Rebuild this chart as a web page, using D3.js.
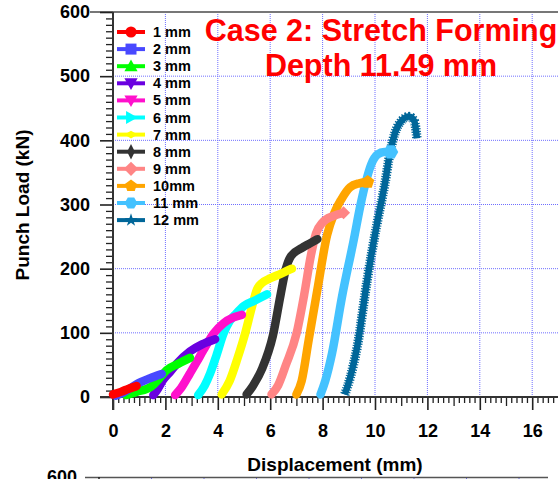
<!DOCTYPE html>
<html>
<head>
<meta charset="utf-8">
<script src="https://cdn.jsdelivr.net/npm/d3@7"></script>
<style>
  html, body { margin: 0; padding: 0; background: #fff; }
  svg { display: block; font-family: "Liberation Sans", Arial, sans-serif; }
</style>
</head>
<body>
<svg id="chart" width="558" height="479"></svg>
<script>
// Punch load vs displacement for stretch forming at successive depths
const seriesNames = ["1 mm", "2 mm", "3 mm", "4 mm", "5 mm", "6 mm", "7 mm", "8 mm", "9 mm", "10mm", "11 mm", "12 mm"];
const seriesColors = ["#ff0000", "#4848ff", "#00ff00", "#6a00e0", "#ff10cc", "#00ffff", "#ffff00", "#333333", "#ff8585", "#ffa500", "#44c2ff", "#006699"];
const seriesMarkers = ["circle", "square", "triUp", "triDown", "triDown", "triRight", "diamondFlat", "diamondThin", "diamond", "pentagon", "hexagon", "star"];
// size of the marker left at the end of each curve (0 = none)
const endMarkerSize = [0, 0, 0, 0, 0, 0, 0, 0, 10, 12, 13, 0];

// displacement (mm) per series
const disp = [
  [0.0, 0.3, 0.6, 0.9],
  [0.1, 0.4, 0.9, 1.4, 1.86],
  [0.5, 0.9, 1.45, 1.75, 2.05, 2.5, 2.94],
  [1.54, 1.7, 1.92, 2.2, 2.44, 2.94, 3.4, 3.9],
  [2.37, 2.6, 2.94, 3.2, 3.45, 3.84, 4.22, 4.6, 4.92],
  [3.25, 3.5, 3.71, 3.95, 4.22, 4.45, 4.7, 5.0, 5.4, 5.88],
  [4.15, 4.45, 4.75, 5.05, 5.3, 5.5, 5.7, 6.0, 6.4, 6.83],
  [5.1, 5.35, 5.7, 6.1, 6.4, 6.6, 6.8, 7.2, 7.5, 7.8],
  [6.05, 6.3, 6.6, 7.0, 7.3, 7.55, 7.75, 8.0, 8.4, 8.8],
  [7.0, 7.2, 7.47, 7.8, 8.17, 8.45, 8.7, 9.05, 9.4, 9.72],
  [7.92, 8.1, 8.36, 8.74, 9.19, 9.45, 9.65, 9.85, 10.1, 10.35, 10.6],
  [8.85, 9.05, 9.32, 9.7, 10.08, 10.38, 10.57, 10.76, 11.0, 11.3, 11.5, 11.6]
];
// punch load (kN) per series
const load = [
  [4, 8, 13, 17],
  [2, 7, 20, 29, 36],
  [3, 8, 16, 28, 42, 52, 61],
  [3, 12, 27, 40, 52, 71, 82, 90],
  [3, 14, 37, 55, 73, 99, 115, 124, 128],
  [3, 18, 37, 65, 99, 118, 130, 142, 150, 160],
  [4, 25, 60, 100, 140, 168, 178, 185, 192, 200],
  [4, 18, 45, 95, 160, 200, 220, 232, 239, 246],
  [4, 18, 50, 98, 160, 220, 255, 272, 282, 287],
  [4, 25, 89, 167, 252, 287, 307, 327, 333, 335],
  [4, 25, 68, 156, 245, 300, 335, 362, 378, 382, 382],
  [4, 30, 78, 182, 271, 333, 380, 411, 430, 437, 430, 403]
];

const xTicks = [0, 2, 4, 6, 8, 10, 12, 14, 16];
const yTicks = [0, 100, 200, 300, 400, 500, 600];
const titleLines = ["Case 2: Stretch Forming", "Depth 11.49 mm"];

const svg = d3.select("#chart");
const x = d3.scaleLinear().domain([0, 17]).range([113, 113 + 17 * 26.2]);
const y = d3.scaleLinear().domain([0, 600]).range([397, 12]);

// dotted grid
const gridColor = "#6f6fff";
svg.append("g").selectAll("line").data(xTicks.filter(v => v > 0)).join("line")
  .attr("x1", d => x(d)).attr("x2", d => x(d)).attr("y1", y(600)).attr("y2", y(0))
  .attr("stroke", gridColor).attr("stroke-width", 1).attr("stroke-dasharray", "1,1");
svg.append("g").selectAll("line").data(yTicks.filter(v => v > 0 && v < 600)).join("line")
  .attr("x1", x(0)).attr("x2", 558).attr("y1", d => y(d)).attr("y2", d => y(d))
  .attr("stroke", gridColor).attr("stroke-width", 1).attr("stroke-dasharray", "1,1");

// top frame
svg.append("line").attr("x1", 90).attr("x2", 558).attr("y1", y(600)).attr("y2", y(600))
  .attr("stroke", "#777").attr("stroke-width", 2);

// y axis: major + minor ticks
const yMinor = d3.range(0, 601, 10).filter(v => v % 100 !== 0);
const yAxisMajor = d3.axisLeft(y).tickValues(yTicks).tickSize(13).tickPadding(10);
const yAxisMinor = d3.axisLeft(y).tickValues(yMinor).tickSize(7).tickFormat("");
const gyMinor = svg.append("g").attr("transform", `translate(${x(0)},0)`).call(yAxisMinor);
const gy = svg.append("g").attr("transform", `translate(${x(0)},0)`).call(yAxisMajor);

// x axis: major, mid, minor ticks
const xMinor = d3.range(0, 85).map(i => i * 0.2).filter(v => Math.abs(v - Math.round(v)) > 1e-6);
const xMid = d3.range(1, 17, 2);
const gxMinor = svg.append("g").attr("transform", `translate(0,${y(0)})`)
  .call(d3.axisBottom(x).tickValues(xMinor).tickSize(6).tickFormat(""));
const gxMid = svg.append("g").attr("transform", `translate(0,${y(0)})`)
  .call(d3.axisBottom(x).tickValues(xMid).tickSize(9).tickFormat(""));
const gx = svg.append("g").attr("transform", `translate(0,${y(0)})`)
  .call(d3.axisBottom(x).tickValues(xTicks).tickSize(13).tickPadding(14));

[gyMinor, gy, gxMinor, gxMid, gx].forEach(g => {
  g.select(".domain").remove();
  g.selectAll(".tick line").attr("stroke", "#222").attr("stroke-width", 1.3);
});
gy.selectAll(".tick line").attr("stroke-width", 1.6);
gx.selectAll(".tick line").attr("stroke-width", 1.6);
gy.selectAll(".tick text").attr("font-size", 18).attr("font-weight", "bold").attr("fill", "#000")
  .attr("font-family", "Liberation Sans, Arial, sans-serif");
gx.selectAll(".tick text").attr("font-size", 18).attr("font-weight", "bold").attr("fill", "#000")
  .attr("font-family", "Liberation Sans, Arial, sans-serif");

// axis lines
svg.append("line").attr("x1", x(0)).attr("x2", x(0)).attr("y1", y(600)).attr("y2", y(0) + 13)
  .attr("stroke", "#333").attr("stroke-width", 2);
svg.append("line").attr("x1", x(0) - 13).attr("x2", 558).attr("y1", y(0)).attr("y2", y(0))
  .attr("stroke", "#333").attr("stroke-width", 2);

// axis titles
svg.append("text").attr("x", 335).attr("y", 471).attr("text-anchor", "middle")
  .attr("font-size", 19).attr("font-weight", "bold").text("Displacement (mm)");
svg.append("text").attr("transform", `translate(29,205) rotate(-90)`).attr("text-anchor", "middle")
  .attr("font-size", 19).attr("font-weight", "bold").text("Punch Load (kN)");

// marker shapes
function markerPath(kind, s) {
  const pts = (arr) => "M" + arr.map(p => p.join(",")).join("L") + "Z";
  const poly = (n, r, rot) => pts(d3.range(n).map(i => {
    const a = rot + i * 2 * Math.PI / n;
    return [r * Math.cos(a), r * Math.sin(a)];
  }));
  switch (kind) {
    case "circle": return d3.symbol(d3.symbolCircle, s * s * 0.8)();
    case "square": return pts([[-s / 2, -s / 2], [s / 2, -s / 2], [s / 2, s / 2], [-s / 2, s / 2]]);
    case "triUp": return pts([[0, -s * 0.6], [s * 0.6, s * 0.45], [-s * 0.6, s * 0.45]]);
    case "triDown": return pts([[0, s * 0.6], [s * 0.6, -s * 0.45], [-s * 0.6, -s * 0.45]]);
    case "triRight": return pts([[s * 0.6, 0], [-s * 0.45, -s * 0.6], [-s * 0.45, s * 0.6]]);
    case "diamondFlat": return pts([[0, -s * 0.35], [s * 0.6, 0], [0, s * 0.35], [-s * 0.6, 0]]);
    case "diamondThin": return pts([[0, -s * 0.7], [s * 0.35, 0], [0, s * 0.7], [-s * 0.35, 0]]);
    case "diamond": return pts([[0, -s * 0.65], [s * 0.65, 0], [0, s * 0.65], [-s * 0.65, 0]]);
    case "pentagon": return poly(5, s * 0.58, -Math.PI / 2);
    case "hexagon": return poly(6, s * 0.58, 0);
    case "star": return d3.symbol(d3.symbolStar, s * s * 0.45)();
  }
}

// curves, drawn from last series to first so earlier depths sit on top
const line = d3.line().x(d => x(d[0])).y(d => y(d[1])).curve(d3.curveMonotoneX);
const curves = svg.append("g");
d3.range(seriesNames.length).reverse().forEach(i => {
  const pts = disp[i].map((d, j) => [d, load[i][j]]);
  const g = curves.append("g");
  if (seriesMarkers[i] === "star") {
    g.append("path").attr("d", line(pts)).attr("fill", "none").attr("stroke", seriesColors[i])
      .attr("stroke-width", 9.5).attr("stroke-dasharray", "1.2,1.4");
    g.append("path").attr("d", line(pts)).attr("fill", "none").attr("stroke", seriesColors[i])
      .attr("stroke-width", 6.5).attr("stroke-linejoin", "round");
  } else {
    g.append("path").attr("d", line(pts)).attr("fill", "none").attr("stroke", seriesColors[i])
      .attr("stroke-width", 8.5).attr("stroke-linecap", "round").attr("stroke-linejoin", "round");
  }
  if (endMarkerSize[i] > 0) {
    const last = pts[pts.length - 1];
    g.append("path").attr("d", markerPath(seriesMarkers[i], endMarkerSize[i]))
      .attr("transform", `translate(${x(last[0])},${y(last[1])})`).attr("fill", seriesColors[i]);
  }
});

// legend
const legend = svg.append("g");
seriesNames.forEach((name, i) => {
  const ly = 32 + i * 17.1;
  legend.append("line").attr("x1", 117).attr("x2", 145).attr("y1", ly).attr("y2", ly)
    .attr("stroke", seriesColors[i]).attr("stroke-width", 4);
  legend.append("path").attr("d", markerPath(seriesMarkers[i], 11))
    .attr("transform", `translate(131,${ly})`).attr("fill", seriesColors[i]);
  legend.append("text").attr("x", 153).attr("y", ly + 5).attr("font-size", 14.5)
    .attr("font-weight", "bold").attr("fill", "#000").text(name);
});

// title
titleLines.forEach((t, i) => {
  svg.append("text").attr("x", 381).attr("y", 41 + i * 35).attr("text-anchor", "middle")
    .attr("font-size", 30.5).attr("font-weight", "bold").attr("fill", "#ff0000").text(t);
});

// top edge of the next panel below
const x2 = d3.scaleLinear().domain([0, 17]).range([99, 99 + 17 * 26.25]);
svg.append("g").selectAll("line").data(xTicks.filter(v => v > 0)).join("line")
  .attr("x1", d => x2(d)).attr("x2", d => x2(d)).attr("y1", 478).attr("y2", 479)
  .attr("stroke", gridColor).attr("stroke-width", 1);
svg.append("line").attr("x1", 85).attr("x2", 548).attr("y1", 477.5).attr("y2", 477.5)
  .attr("stroke", "#555").attr("stroke-width", 1.5);
svg.append("line").attr("x1", 99).attr("x2", 99).attr("y1", 477).attr("y2", 479)
  .attr("stroke", "#222").attr("stroke-width", 1.5);
svg.append("text").attr("x", 77).attr("y", 483).attr("text-anchor", "end")
  .attr("font-size", 18).attr("font-weight", "bold").text("600");
</script>
</body>
</html>
